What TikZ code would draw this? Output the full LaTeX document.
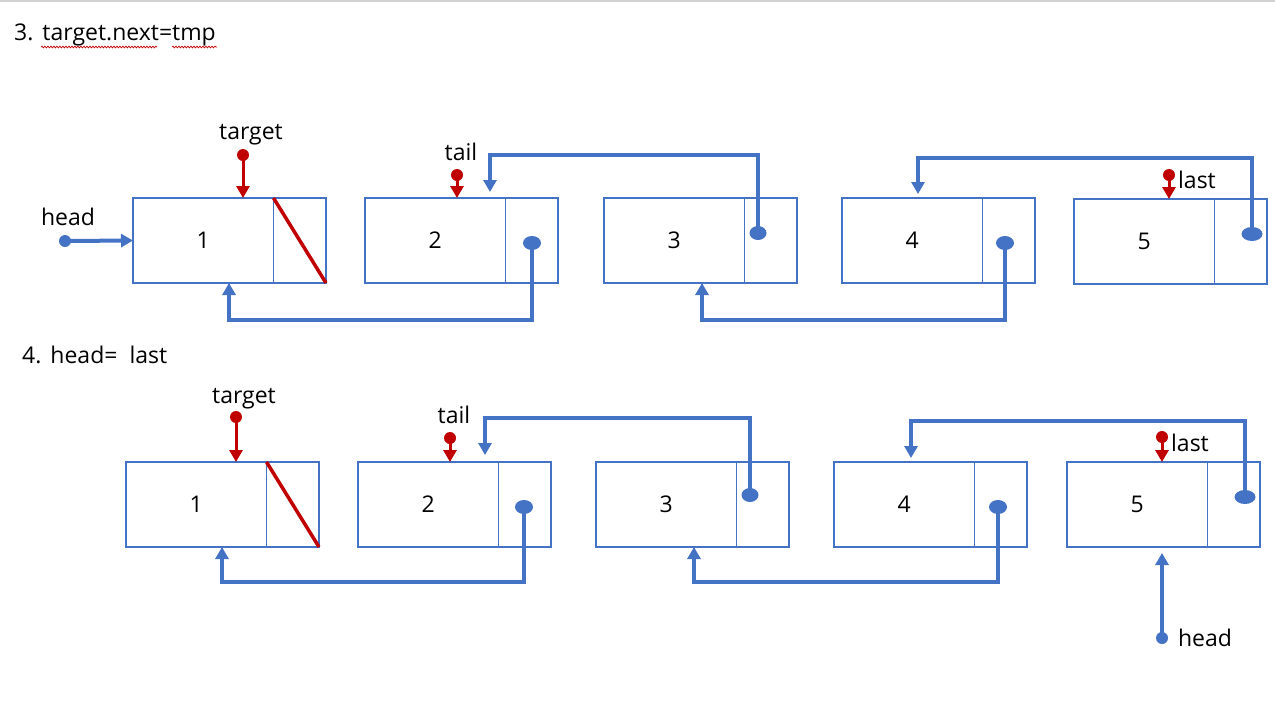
\documentclass[tikz,border=0pt]{standalone}
\usepackage{fontspec}
\setmainfont{Open Sans}
\usetikzlibrary{arrows.meta,shapes.geometric,decorations.pathmorphing}

\definecolor{lnblue}{HTML}{4472C4}
\definecolor{lnred}{HTML}{C00000}

\tikzset{
  datapart/.style={draw=lnblue, line width=1.3pt, inner sep=0pt, outer sep=0pt,
    minimum width=140.5pt, minimum height=85pt, font=\fontsize{23}{26}\selectfont},
  ptrpart/.style={draw=lnblue, line width=1.3pt, inner sep=0pt, outer sep=0pt,
    minimum width=52.5pt, minimum height=85pt},
  bdot/.style={ellipse, fill=lnblue, inner sep=0pt, minimum width=18pt, minimum height=14pt},
  hdot/.style={circle, fill=lnblue, inner sep=0pt, minimum size=12pt},
  rdot/.style={circle, fill=lnred, inner sep=0pt, minimum size=12pt},
  link/.style={draw=lnblue, line width=4pt, -{Triangle[length=12pt,width=13pt]}},
  rlink/.style={draw=lnred, line width=3pt, -{Triangle[length=12pt,width=13pt]}},
  nullmark/.style={draw=lnred, line width=3.5pt},
  lbl/.style={font=\fontsize{23}{26}\selectfont, inner sep=0pt},
  spell/.style={draw=lnred, line width=0.7pt, decorate,
    decoration={snake, amplitude=0.9pt, segment length=3pt}},
}

% one list cell: data part #1d with value #4, pointer part #1p
\newcommand\listcell[4]{%
  \node[datapart, anchor=north west] (#1d) at (#2,#3) {#4};
  \node[ptrpart, anchor=north west] (#1p) at (#1d.north east) {};
}

\begin{document}
\begin{tikzpicture}[x=1pt,y=-1pt]
\useasboundingbox (0,0) rectangle (1275,718);
\draw[gray!35, line width=1.5pt] (0,1) -- (1275,1);

% ---------- step 3 ----------
\node[lbl, anchor=west] (s3) at (14,35) {3.\hspace{9pt}target.next=tmp};
\draw[spell] (41,47) -- (157,47);
\draw[spell] (172,47) -- (217,47);

\listcell{a1}{133}{198}{1}
\listcell{a2}{365}{198}{2}
\listcell{a3}{604}{198}{3}
\listcell{a4}{842}{198}{4}
\listcell{a5}{1074}{199}{5}

\draw[nullmark] (a1p.north west) -- (a1p.south east);

\node[bdot] (da2) at (532,243) {};
\node[bdot, minimum width=17pt] (da3) at (758,233) {};
\node[bdot] (da4) at (1005,243) {};
\node[bdot, minimum width=21pt] (da5) at (1252,234) {};

\draw[link] (da2.center) |- (229,320) -- ([xshift=96pt]a1d.south west);
\draw[link] (da3.center) |- (490,155) -- ([xshift=125pt,yshift=6pt]a2d.north west);
\draw[link] (da4.center) |- (702,320) -- ([xshift=98pt]a3d.south west);
\draw[link] (da5.center) |- (918,158) -- ([xshift=76pt,yshift=4pt]a4d.north west);

\node[hdot] (ha) at (65,241) {};
\draw[link] (ha.center) -- (a1d.west);
\node[lbl] (hla) at (68,217) {head};

\node[rdot] (ta) at (243,155) {};
\draw[rlink] (ta.center) -- ([xshift=110pt]a1d.north west);
\node[lbl] (tla) at (251,135) {target};

\node[rdot] (la) at (457,175) {};
\draw[rlink] (la.center) -- ([xshift=92pt]a2d.north west);
\node[lbl] (lla) at (461,152) {tail};

\node[rdot] (sa) at (1169,175) {};
\draw[rlink] (sa.center) -- ([xshift=95pt]a5d.north west);
\node[lbl] (sla) at (1197,180) {last};

% ---------- step 4 ----------
\node[lbl, anchor=west] (s4) at (22,355) {4.\hspace{9pt}head=\hspace{12pt}last};

\listcell{b1}{126}{462}{1}
\listcell{b2}{358}{462}{2}
\listcell{b3}{596}{462}{3}
\listcell{b4}{834}{462}{4}
\listcell{b5}{1067}{462}{5}

\draw[nullmark] (b1p.north west) -- (b1p.south east);

\node[bdot] (db2) at (524,507) {};
\node[bdot, minimum width=17pt] (db3) at (750,495) {};
\node[bdot] (db4) at (998,507) {};
\node[bdot, minimum width=21pt] (db5) at (1245,497) {};

\draw[link] (db2.center) |- (222,582) -- ([xshift=96pt]b1d.south west);
\draw[link] (db3.center) |- (485,418) -- ([xshift=127pt,yshift=7pt]b2d.north west);
\draw[link] (db4.center) |- (694,582) -- ([xshift=98pt]b3d.south west);
\draw[link] (db5.center) |- (911,421) -- ([xshift=77pt,yshift=4pt]b4d.north west);

\node[rdot] (tb) at (236,417) {};
\draw[rlink] (tb.center) -- ([xshift=110pt]b1d.north west);
\node[lbl] (tlb) at (244,399) {target};

\node[rdot] (lb) at (450,438) {};
\draw[rlink] (lb.center) -- ([xshift=92pt]b2d.north west);
\node[lbl] (llb) at (454,415) {tail};

\node[rdot] (sb) at (1162,437) {};
\draw[rlink] (sb.center) -- ([xshift=95pt]b5d.north west);
\node[lbl] (slb) at (1190,443) {last};

\node[hdot] (hb) at (1162,638) {};
\draw[link] (hb.center) -- ([xshift=95pt,yshift=-6pt]b5d.south west);
\node[lbl] (hlb) at (1205,638) {head};
\end{tikzpicture}
\end{document}
